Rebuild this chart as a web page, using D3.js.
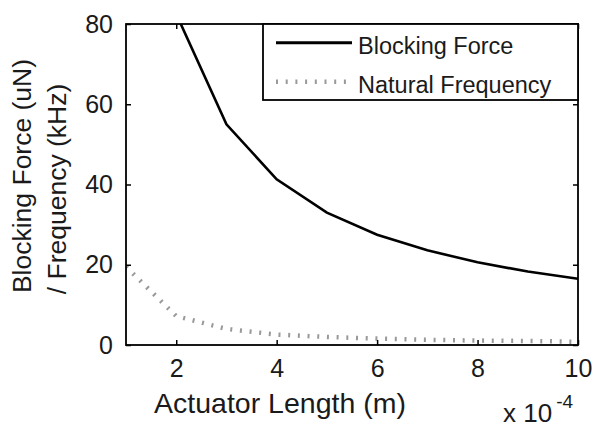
<!DOCTYPE html>
<html>
<head>
<meta charset="utf-8">
<script src="https://cdn.jsdelivr.net/npm/d3@7"></script>
<style>
  body { margin: 0; background: #fff; }
  text { font-family: "Liberation Sans", Arial, Helvetica, sans-serif; fill: #1a1a1a; }
</style>
</head>
<body>
<div class="vis-chart"></div>
<script>
// actuator length in units of 1e-4 m
const lengths = [1, 2, 3, 4, 5, 6, 7, 8, 9, 10];
const blockingForce = [165, 82.5, 55, 41.3, 33, 27.5, 23.6, 20.6, 18.3, 16.5];
const naturalFrequency = [19.5, 7.2, 4.0, 2.6, 2.0, 1.6, 1.3, 1.1, 1.0, 0.8];
const xTicks = [2, 4, 6, 8, 10];
const yTicks = [0, 20, 40, 60, 80];
const seriesNames = ['Blocking Force', 'Natural Frequency'];

const margin = { top: 24, right: 24, bottom: 92, left: 126 };
const width = 602 - margin.left - margin.right;
const height = 437 - margin.top - margin.bottom;

let svg = d3.select('.vis-chart')
    .append('svg')
    .attr('width', 602)
    .attr('height', 437);

let g = svg.append('g')
    .attr('transform', 'translate(' + margin.left + ',' + margin.top + ')');

let x = d3.scaleLinear().domain([1, 10]).range([0, width]);
let y = d3.scaleLinear().domain([0, 80]).range([height, 0]);

g.append('clipPath').attr('id', 'plot-clip')
    .append('rect').attr('width', width).attr('height', height);

let line = d3.line()
    .x(function (d) { return x(d[0]); })
    .y(function (d) { return y(d[1]); });

let forcePts = lengths.map(function (l, i) { return [l, blockingForce[i]]; });
let freqPts = lengths.map(function (l, i) { return [l, naturalFrequency[i]]; });

g.append('path')
    .datum(freqPts)
    .attr('clip-path', 'url(#plot-clip)')
    .attr('d', line)
    .attr('fill', 'none')
    .attr('stroke', '#999')
    .attr('stroke-width', 4.5)
    .attr('stroke-dasharray', '2,7.7');

g.append('path')
    .datum(forcePts)
    .attr('clip-path', 'url(#plot-clip)')
    .attr('d', line)
    .attr('fill', 'none')
    .attr('stroke', '#000')
    .attr('stroke-width', 2.6);

// axes, ticks inward on all four sides
const tickLen = 5;
let axisStyle = function (sel) {
    sel.select('.domain').remove();
    sel.selectAll('.tick line').attr('stroke', '#000').attr('stroke-width', 1.5);
    sel.selectAll('.tick text')
        .style('font-size', '25px')
        .style('font-family', '"Liberation Sans", Arial, sans-serif')
        .attr('fill', '#1a1a1a');
};

g.append('g')
    .attr('transform', 'translate(0,' + height + ')')
    .call(d3.axisBottom(x).tickValues(xTicks).tickSize(-tickLen).tickPadding(12))
    .call(axisStyle)
    .selectAll('.tick text').attr('dy', '0.71em').attr('y', 14);

g.append('g')
    .call(d3.axisTop(x).tickValues(xTicks).tickSize(-tickLen).tickFormat(''))
    .call(axisStyle);

g.append('g')
    .call(d3.axisLeft(y).tickValues(yTicks).tickSize(-tickLen).tickPadding(13))
    .call(axisStyle);

g.append('g')
    .attr('transform', 'translate(' + width + ',0)')
    .call(d3.axisRight(y).tickValues(yTicks).tickSize(-tickLen).tickFormat(''))
    .call(axisStyle);

g.append('rect')
    .attr('width', width)
    .attr('height', height)
    .attr('fill', 'none')
    .attr('stroke', '#000')
    .attr('stroke-width', 1.8);

// legend
let legend = g.append('g').attr('transform', 'translate(' + (width - 315) + ',0)');
legend.append('rect')
    .attr('width', 315)
    .attr('height', 76)
    .attr('fill', '#fff')
    .attr('stroke', '#000')
    .attr('stroke-width', 1.8);

let legendG = legend.selectAll('.legend')
    .data(seriesNames)
    .enter().append('g')
    .attr('class', 'legend')
    .attr('transform', function (d, i) { return 'translate(0,' + (18.7 + i * 39) + ')'; });

legendG.append('line')
    .attr('x1', 13).attr('x2', 89)
    .attr('stroke', function (d, i) { return i === 0 ? '#000' : '#999'; })
    .attr('stroke-width', function (d, i) { return i === 0 ? 3 : 4.5; })
    .attr('stroke-dasharray', function (d, i) { return i === 0 ? null : '2,7.7'; });

legendG.append('text')
    .text(function (d) { return d; })
    .attr('x', 95)
    .attr('y', 11.5)
    .style('font-size', '23.5px');

// axis labels
svg.append('text')
    .text('Actuator Length (m)')
    .attr('x', 280)
    .attr('y', 413)
    .attr('text-anchor', 'middle')
    .style('font-size', '28.5px');

svg.append('text')
    .attr('transform', 'translate(31,176) rotate(-90)')
    .attr('text-anchor', 'middle')
    .style('font-size', '26.5px')
    .text('Blocking Force (uN)');

svg.append('text')
    .attr('transform', 'translate(66,189) rotate(-90)')
    .attr('text-anchor', 'middle')
    .style('font-size', '26.5px')
    .text('/ Frequency (kHz)');

let expo = svg.append('text')
    .attr('x', 503)
    .attr('y', 422)
    .style('font-size', '26px');
expo.append('tspan').text('x 10');
expo.append('tspan').text('-4').attr('dx', 4).attr('dy', -14).style('font-size', '19px');
</script>
</body>
</html>
